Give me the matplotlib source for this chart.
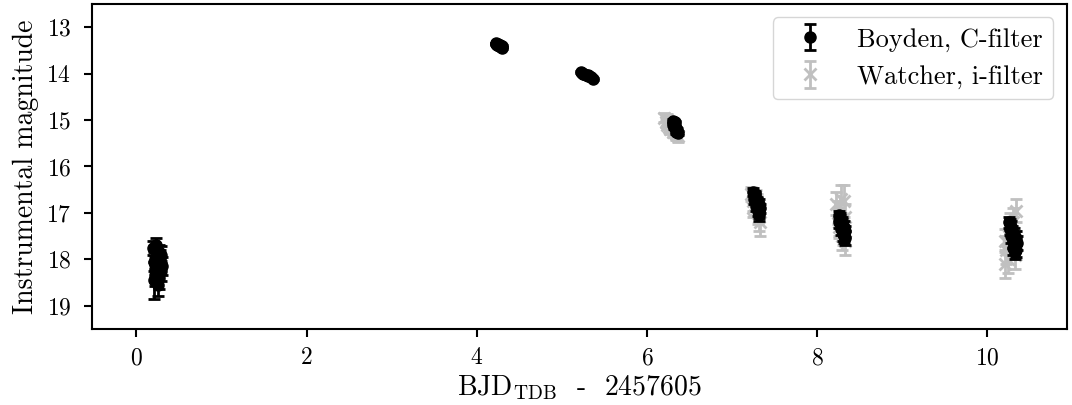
import matplotlib
matplotlib.use("Agg")
import matplotlib.pyplot as plt
import numpy as np

plt.rcParams['font.family'] = ['cmr10', 'DejaVu Serif']
plt.rcParams['mathtext.fontset'] = 'cm'
plt.rcParams['axes.formatter.use_mathtext'] = True
plt.rcParams['font.size'] = 20

# Boyden, C-filter
boyden_t = [0.20, 0.21, 0.22, 0.23, 0.24, 0.25, 0.26, 0.27, 0.28, 0.29, 0.30, 0.21, 0.23, 0.25, 0.27, 0.29, 0.22, 0.26,
            4.22, 4.23, 4.24, 4.25, 4.26, 4.27, 4.28, 4.29, 4.30,
            5.22, 5.24, 5.26, 5.28, 5.30, 5.32, 5.34, 5.36, 5.25, 5.31,
            6.30, 6.31, 6.32, 6.33, 6.34, 6.35, 6.36, 6.32, 6.34,
            7.25, 7.26, 7.27, 7.28, 7.29, 7.30, 7.31, 7.32, 7.33, 7.27, 7.29, 7.31,
            8.25, 8.26, 8.27, 8.28, 8.29, 8.30, 8.31, 8.32, 8.33, 8.27, 8.29, 8.31,
            10.25, 10.26, 10.27, 10.28, 10.29, 10.30, 10.31, 10.32, 10.33, 10.34, 10.35, 10.28, 10.30, 10.32]
boyden_m = [17.75, 18.05, 18.20, 17.95, 18.30, 18.10, 17.85, 18.40, 18.00, 18.25, 18.15, 18.45, 17.70, 18.55, 18.10, 17.90, 18.35, 18.05,
            13.36, 13.35, 13.38, 13.37, 13.40, 13.39, 13.42, 13.41, 13.44,
            13.96, 13.98, 14.00, 14.02, 14.03, 14.06, 14.08, 14.12, 14.01, 14.05,
            15.02, 15.08, 15.12, 15.05, 15.18, 15.22, 15.28, 15.15, 15.25,
            16.55, 16.70, 16.62, 16.85, 16.75, 16.95, 16.80, 17.05, 16.90, 16.60, 16.78, 17.00,
            17.05, 17.20, 17.10, 17.35, 17.25, 17.45, 17.30, 17.55, 17.40, 17.15, 17.22, 17.50,
            17.20, 17.35, 17.25, 17.50, 17.40, 17.60, 17.45, 17.70, 17.55, 17.80, 17.65, 17.30, 17.75, 17.85]
boyden_e = [0.15, 0.20, 0.25, 0.18, 0.22, 0.20, 0.15, 0.25, 0.20, 0.22, 0.20, 0.40, 0.15, 0.25, 0.20, 0.18, 0.22, 0.20,
            0.02, 0.02, 0.02, 0.02, 0.02, 0.02, 0.02, 0.02, 0.02,
            0.02, 0.02, 0.02, 0.02, 0.02, 0.02, 0.02, 0.02, 0.02, 0.02,
            0.04, 0.04, 0.04, 0.04, 0.04, 0.04, 0.05, 0.04, 0.05,
            0.08, 0.10, 0.08, 0.10, 0.10, 0.12, 0.10, 0.12, 0.10, 0.08, 0.10, 0.12,
            0.10, 0.12, 0.10, 0.12, 0.12, 0.15, 0.12, 0.15, 0.12, 0.10, 0.12, 0.15,
            0.12, 0.12, 0.12, 0.15, 0.12, 0.15, 0.12, 0.15, 0.15, 0.15, 0.15, 0.12, 0.15, 0.15]

# Watcher, i-filter
watcher_t = [6.20, 6.22, 6.24, 6.26, 6.28, 6.30, 6.32, 6.34, 6.36, 6.23, 6.27, 6.31,
             7.22, 7.24, 7.26, 7.28, 7.30, 7.32, 7.33, 7.25, 7.29,
             8.22, 8.24, 8.26, 8.28, 8.30, 8.32, 8.33, 8.25, 8.29, 8.31,
             10.20, 10.22, 10.24, 10.26, 10.28, 10.30, 10.32, 10.34, 10.21, 10.25, 10.33]
watcher_m = [14.95, 15.05, 15.00, 15.15, 15.10, 15.25, 15.20, 15.30, 15.35, 15.10, 15.20, 15.15,
             16.60, 16.75, 16.85, 16.70, 17.00, 17.10, 17.20, 16.90, 16.80,
             16.80, 17.00, 17.20, 16.70, 17.40, 17.10, 17.60, 17.30, 17.50, 16.75,
             17.60, 17.80, 18.00, 17.30, 17.60, 17.20, 17.90, 16.95, 18.10, 17.50, 17.70]
watcher_e = [0.10, 0.10, 0.12, 0.10, 0.12, 0.12, 0.10, 0.12, 0.12, 0.10, 0.10, 0.10,
             0.15, 0.20, 0.20, 0.20, 0.25, 0.30, 0.30, 0.20, 0.20,
             0.25, 0.25, 0.30, 0.30, 0.30, 0.30, 0.30, 0.25, 0.30, 0.35,
             0.25, 0.30, 0.30, 0.30, 0.30, 0.30, 0.30, 0.25, 0.30, 0.30, 0.30]

fig, ax = plt.subplots(figsize=(10.72, 4.05), dpi=100)
hw = ax.errorbar(watcher_t, watcher_m, yerr=watcher_e, fmt='x', color='#c0c0c0',
                 ms=8, mew=2, capsize=4, elinewidth=2, capthick=2, label='Watcher, i-filter', zorder=2)
hb = ax.errorbar(boyden_t, boyden_m, yerr=boyden_e, fmt='o', color='black',
                 ms=8, capsize=4, elinewidth=2, capthick=2, label='Boyden, C-filter', zorder=3)
ax.set_xlim(-0.52, 10.93)
ax.set_ylim(19.5, 12.5)
ax.set_yticks([13, 14, 15, 16, 17, 18, 19])
ax.set_xticks([0, 2, 4, 6, 8, 10])
ax.set_ylabel('Instrumental magnitude', fontsize=20, labelpad=5)
ax.set_xlabel(r'BJD$_{\rm TDB}$  -  2457605', fontsize=20, labelpad=3)
ax.tick_params(labelsize=17, width=1.5, length=6)
ax.tick_params(axis='y', pad=9)
ax.tick_params(axis='x', pad=7)
for s in ax.spines.values():
    s.set_linewidth(1.5)
ax.legend([hb, hw], ['Boyden, C-filter', 'Watcher, i-filter'], loc='upper right', fontsize=19)
fig.subplots_adjust(left=0.086, right=0.995, top=0.99, bottom=0.188)
fig.savefig('out.png', dpi=100)
